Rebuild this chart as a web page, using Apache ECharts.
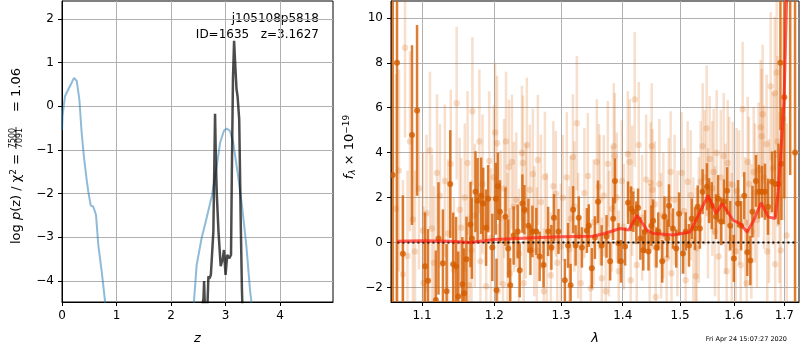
<!DOCTYPE html>
<html>
<head>
<meta charset="utf-8">
<script src="https://cdn.jsdelivr.net/npm/echarts@6/dist/echarts.min.js"></script>
<style>
  html, body { margin: 0; padding: 0; background: #fff; }
  #main { width: 800px; height: 350px; }
</style>
</head>
<body>
<div id="main"></div>
<script>
// ---- left panel: p(z) ----
const zTicks = [0, 1, 2, 3, 4]
const logpTicks = [-4, -3, -2, -1, 0, 1, 2]

// blue curve, low-z hump
const pzLowZ = [0.0, 0.01, 0.055, 0.116, 0.178, 0.22, 0.27, 0.318, 0.36, 0.40, 0.45, 0.483, 0.526, 0.575, 0.624, 0.666, 0.728, 0.789, 0.83]
const pzLowP = [-0.55, -0.22, 0.23, 0.39, 0.54, 0.65, 0.58, 0.16, -0.6, -1.13, -1.66, -1.96, -2.27, -2.30, -2.49, -3.18, -3.78, -4.46, -5.2]
// blue curve, high-z hump
const pzHighZ = [2.38, 2.42, 2.47, 2.56, 2.65, 2.75, 2.83, 2.90, 2.97, 3.02, 3.08, 3.14, 3.22, 3.30, 3.38, 3.45, 3.48, 3.52]
const pzHighP = [-5.2, -4.46, -3.63, -3.02, -2.57, -2.04, -1.43, -0.83, -0.56, -0.51, -0.56, -0.83, -1.51, -2.27, -3.18, -4.23, -4.54, -5.2]
// dark curve (chi2 based)
const chiZ = [2.57, 2.58, 2.595, 2.606, 2.62, 2.667, 2.685, 2.70, 2.73, 2.75, 2.776, 2.795, 2.807, 2.825, 2.84, 2.87, 2.91, 2.95, 2.97, 3.00, 3.03, 3.07, 3.10, 3.115, 3.135, 3.156, 3.175, 3.20, 3.22, 3.25, 3.28, 3.30, 3.33]
const chiP = [-5.0, -4.5, -4.4, -4.0, -4.6, -4.6, -3.89, -3.95, -3.86, -3.82, -2.87, -1.2, -0.17, -1.4, -2.04, -2.87, -3.66, -3.48, -3.29, -3.86, -3.40, -3.48, -3.40, -1.5, 0.6, 1.5, 1.0, 0.4, 0.23, -0.3, -2.8, -4.2, -5.5]

// ---- right panel: spectrum ----
const lamTicks = [1.1, 1.2, 1.3, 1.4, 1.5, 1.6, 1.7]
const fluxTicks = [-2, 0, 2, 4, 6, 8, 10]

// binned points (dark)
const darkLam = [1.062, 1.0675, 1.075, 1.0869, 1.0935, 1.104, 1.108, 1.1185, 1.122, 1.128, 1.133, 1.138, 1.142, 1.146, 1.149, 1.1546, 1.157, 1.1604, 1.166, 1.168,
  1.173, 1.176, 1.181, 1.184, 1.188, 1.191, 1.197, 1.202, 1.203, 1.205, 1.208, 1.216, 1.220, 1.223, 1.228, 1.234, 1.237, 1.241, 1.244, 1.250,
  1.253, 1.256, 1.262, 1.267, 1.273, 1.280, 1.285, 1.289, 1.296, 1.306, 1.311, 1.315, 1.319, 1.323, 1.328, 1.333, 1.341, 1.344, 1.349, 1.354,
  1.359, 1.365, 1.373, 1.379, 1.384, 1.387, 1.393, 1.397, 1.404, 1.409, 1.414, 1.418, 1.423, 1.426, 1.430, 1.435, 1.438, 1.444, 1.449, 1.452,
  1.458, 1.461, 1.468, 1.472, 1.477, 1.480, 1.487, 1.493, 1.498, 1.505, 1.510, 1.516, 1.521, 1.527, 1.532, 1.536, 1.541, 1.549, 1.553, 1.558,
  1.566, 1.570, 1.576, 1.581, 1.587, 1.593, 1.600, 1.608, 1.614, 1.620, 1.626, 1.632, 1.636, 1.643, 1.649, 1.655, 1.661, 1.667, 1.675, 1.681,
  1.688, 1.692, 1.694, 1.700, 1.712, 1.722]
const darkFlux = [3.0, 8.0, -0.5, 4.78, 5.88, -1.06, -1.7, -2.56, 0.18, -0.93, -2.17, 2.6, -0.97, -1.06, -2.4, -1.86, -2.26, -0.75, 0.8, 0.18,
  2.26, 1.86, 2.08, 1.73, 0.66, 1.95, -0.22, 1.95, -2.12, 2.5, 1.37, 1.15, -0.27, -1.9, 0.31, 0.49, -1.24, 1.73, 1.46, 0.75,
  -0.35, 0.49, 0.49, -0.62, -1.0, 0.49, -0.22, 1.1, 0.49, -1.68, -0.13, -1.9, 1.46, -0.13, 1.1, -0.22, 0.53, 0.75, -1.15, 0.22,
  1.81, -0.13, 0.27, -0.84, 1.06, 2.74, -0.04, -0.84, -0.18, 1.77, 1.5, 1.37, 0.88, 1.55, 0.18, -0.35, 0.49, -0.4, 0.75, 0.97,
  -0.22, 0.49, -0.84, 1.15, 0.18, 1.64, 0.62, -0.27, 1.28, -0.49, 0.49, -0.13, 1.06, 0.62, 1.59, 0.62, 2.26, 2.48, 1.86, 1.64,
  1.15, 1.95, 0.93, 1.81, 2.3, 0.75, -0.71, 1.73, 0.75, 2.08, -0.44, -0.8, 1.37, 2.74, 2.26, 2.26, 2.26, 1.59, 2.7, 2.6,
  2.6, 8.0, 3.5, 6.46, 14.0, 4.0]
const darkErr = [12, 11, 2.6, 4.0, 3.8, 2.4, 2.3, 2.2, 2.5, 2.4, 2.1, 2.4, 2.3, 2.2, 2.0, 2.1, 2.0, 1.9, 1.9, 1.8,
  1.8, 1.9, 1.7, 1.6, 1.7, 1.5, 1.5, 1.6, 1.4, 1.5, 1.4, 1.3, 1.3, 1.2, 1.3, 1.2, 1.2, 1.3, 1.1, 1.2,
  1.1, 1.15, 1.05, 1.1, 1.0, 1.1, 1.0, 1.05, 1.0, 0.95, 1.0, 0.95, 1.05, 0.9, 0.95, 0.9, 1.0, 0.95, 0.9, 0.95,
  0.95, 0.9, 0.95, 0.85, 0.95, 1.0, 0.9, 0.95, 0.85, 0.95, 1.0, 0.9, 0.95, 0.85, 0.95, 0.9, 0.95, 0.85, 0.9, 0.95,
  0.9, 0.85, 0.95, 0.9, 0.85, 0.95, 0.9, 0.85, 0.95, 0.9, 0.85, 0.95, 0.9, 0.95, 0.95, 0.9, 1.0, 1.05, 1.0, 1.05,
  1.0, 1.05, 1.05, 1.0, 1.05, 1.1, 1.05, 1.05, 1.1, 1.05, 1.05, 1.1, 1.15, 1.15, 1.2, 1.15, 1.25, 1.25, 1.35, 1.5,
  1.8, 3.0, 2.5, 4.5, 11, 12]

// unbinned points (light), set A
const lightLam = [1.066, 1.0752, 1.0778, 1.0842, 1.0881, 1.0908, 1.1013, 1.1020, 1.1106, 1.1133, 1.124, 1.1306, 1.1387, 1.1468, 1.1509, 1.1530, 1.1619, 1.1674, 1.1687, 1.1785,
  1.1800, 1.1882, 1.1925, 1.2010, 1.2038, 1.2050, 1.2124, 1.2168, 1.2211, 1.2225, 1.2255, 1.2285, 1.2403, 1.2418, 1.2430, 1.2477, 1.2522, 1.2567, 1.2628, 1.2643,
  1.2734, 1.2750, 1.2842, 1.2919, 1.2997, 1.3028, 1.3154, 1.3186, 1.3249, 1.3313, 1.3425, 1.3473, 1.3571, 1.3603, 1.3652, 1.3685, 1.3718, 1.3751, 1.3850, 1.3867,
  1.3933, 1.3984, 1.4085, 1.4118, 1.4135, 1.4203, 1.4238, 1.4272, 1.4478, 1.4496, 1.4510, 1.4566, 1.4759, 1.4795, 1.4830, 1.4845, 1.5028, 1.5100, 1.5136, 1.5282,
  1.5300, 1.5374, 1.5411, 1.5485, 1.5541, 1.5616, 1.5673, 1.5710, 1.5805, 1.5862, 1.5881, 1.5977, 1.6035, 1.6054, 1.6132, 1.6170, 1.6248, 1.6267, 1.6385, 1.6483,
  1.6523, 1.6543, 1.6563, 1.6642, 1.6655, 1.6723, 1.6804, 1.6815, 1.6844, 1.6925, 1.7048]
const lightFlux = [1.5, -1.42, 8.67, 4.5, 1.02, -0.4, 0.53, -1.8, 4.1, 0.62, 2.08, 2.74, 3.5, 6.2, 1.46, 0.66, 3.54, -0.35, 5.84, 4.5,
  -0.84, -1.95, 3.63, 4.9, 4.42, -2.17, -1.86, 4.5, 3.36, -1.37, 3.58, 1.59, 3.98, 3.54, -1.81, 4.34, 2.35, 3.05, -0.35, 3.67,
  -2.17, 2.92, -1.46, 2.17, -0.18, 1.99, 1.06, 3.8, 5.31, -1.81, 2.96, -2.04, 3.58, 2.48, -1.59, 2.08, -2.17, 3.5, 4.29, 3.85,
  -1.28, 2.74, 3.94, 3.58, -1.68, 6.37, -1.0, 4.34, 2.65, 4.29, 2.35, -2.43, -0.71, 1.95, 3.14, -1.37, 3.1, -1.68, 2.7, -1.5,
  -0.27, 2.7, 4.29, 5.08, 3.72, 3.14, 3.98, -0.62, 3.85, -1.28, 3.54, 2.57, -0.4, 2.3, -1.0, 5.93, -1.81, 3.58, 3.14, 3.23,
  5.13, 4.73, 5.71, 4.38, -0.4, 6.95, 6.64, -0.97, 7.57, -0.35, 0.31]
const lightErr = [6.0, 4.2, 4.0, 4.0, 3.8, 3.6, 3.5, 3.4, 3.5, 3.3, 3.2, 3.4, 3.3, 3.4, 3.2, 3.1, 3.2, 3.1, 3.3, 3.2,
  3.0, 3.0, 3.1, 3.1, 3.0, 3.0, 2.9, 3.1, 3.0, 2.9, 3.0, 2.9, 3.0, 3.0, 2.9, 3.0, 2.9, 2.9, 2.8, 2.9,
  2.8, 2.9, 2.8, 2.8, 2.8, 2.8, 2.8, 2.8, 3.0, 2.8, 2.8, 2.8, 2.8, 2.8, 2.7, 2.7, 2.7, 2.8, 2.8, 2.8,
  2.7, 2.7, 2.8, 2.8, 2.7, 3.0, 2.7, 2.8, 2.7, 2.8, 2.7, 2.7, 2.7, 2.7, 2.7, 2.7, 2.7, 2.7, 2.7, 2.7,
  2.7, 2.7, 2.8, 2.8, 2.8, 2.8, 2.8, 2.8, 2.8, 2.8, 2.8, 2.8, 2.8, 2.8, 2.8, 3.0, 2.8, 2.9, 2.9, 3.0,
  3.0, 3.0, 3.1, 3.1, 3.1, 3.3, 3.4, 3.4, 3.8, 3.8, 5.0]

// unbinned points (light), set B
const lightLamB = [1.070, 1.081, 1.096, 1.106, 1.116, 1.120, 1.135, 1.143, 1.158, 1.164, 1.172, 1.183, 1.195, 1.199, 1.209, 1.214, 1.219, 1.232, 1.236, 1.246,
  1.259, 1.269, 1.278, 1.288, 1.294, 1.309, 1.313, 1.321, 1.327, 1.337, 1.352, 1.362, 1.377, 1.382, 1.390, 1.402, 1.416, 1.433, 1.440, 1.446,
  1.455, 1.463, 1.466, 1.470, 1.490, 1.495, 1.507, 1.519, 1.524, 1.534, 1.545, 1.551, 1.559, 1.564, 1.575, 1.584, 1.591, 1.596, 1.610, 1.622,
  1.629, 1.634, 1.641, 1.645, 1.659, 1.669, 1.677, 1.686, 1.690, 1.698]
const lightFluxB = [3.2, -0.6, 2.4, 1.3, -0.9, 3.1, 0.4, -1.2, 2.0, -1.9, 1.2, 2.6, 0.2, 2.9, 1.1, 2.4, 0.1, 1.9, -0.5, 1.4,
  0.5, 1.8, 0.2, 2.5, -0.9, 2.9, -0.3, 1.6, 0.3, 2.2, 0.9, 1.9, 0.4, 1.5, 2.0, 0.7, 2.3, 1.1, 2.8, -0.2,
  1.7, 2.6, 0.3, 1.2, 1.9, 0.4, 1.4, 2.1, 0.1, 1.0, 2.9, 1.3, 2.4, 0.5, 2.9, 1.5, 2.6, 0.2, 2.0, 0.9,
  2.6, 0.5, 2.2, 1.0, 2.9, 1.4, 3.3, 4.5, 2.0, 5.5]
const lightErrB = [4.5, 3.8, 3.6, 3.5, 3.4, 3.5, 3.3, 3.2, 3.3, 3.1, 3.2, 3.1, 3.1, 3.2, 3.0, 3.1, 3.0, 3.0, 2.9, 3.0,
  2.9, 3.0, 2.9, 2.9, 2.9, 2.9, 2.8, 2.9, 2.8, 2.9, 2.8, 2.9, 2.8, 2.8, 2.9, 2.8, 2.9, 2.8, 2.9, 2.8,
  2.8, 2.9, 2.8, 2.8, 2.9, 2.8, 2.8, 2.9, 2.8, 2.8, 3.0, 2.9, 3.0, 2.9, 3.0, 2.9, 3.0, 2.9, 3.0, 2.9,
  3.0, 3.0, 3.1, 3.0, 3.2, 3.2, 3.4, 3.8, 3.8, 4.5]

// best-fit model (red)
const modelLam = [1.068, 1.10, 1.14, 1.165, 1.20, 1.25, 1.30, 1.35, 1.37, 1.3956, 1.41, 1.4243, 1.4415, 1.452, 1.4873, 1.518, 1.5364, 1.5512, 1.5662, 1.5776,
  1.5985, 1.612, 1.6256, 1.6374, 1.6533, 1.6673, 1.6814, 1.6875, 1.6956, 1.6996, 1.706]
const modelFlux = [0.05, 0.08, 0.05, 0.0, 0.13, 0.2, 0.25, 0.28, 0.4, 0.62, 0.55, 1.21, 0.55, 0.4, 0.33, 0.47, 1.37, 2.1, 1.28, 1.73,
  0.99, 0.84, 0.47, 0.93, 1.77, 1.14, 1.06, 2.26, 4.9, 6.4, 12]

const zeroLam = [1.068, 1.725]

const darkColor = "rgba(213,94,0,0.8)"
const lightColor = "rgba(213,94,0,0.2)"
const font = "DejaVu Sans"

const zip2 = (a, b) => a.map((v, i) => [v, b[i]])
const specData = (lam, flux, err) => lam.map((w, i) => [Math.log(w), flux[i], err[i]])
const minus = v => String(v).replace("-", "\u2212")

const errBars = (color, width, r) => (params, api) => {
  const x = api.value(0), y = api.value(1), e = api.value(2)
  const lo = api.coord([x, y - e])
  const hi = api.coord([x, y + e])
  const c = api.coord([x, y])
  return {
    type: "group",
    children: [
      { type: "line", shape: { x1: lo[0], y1: lo[1], x2: hi[0], y2: hi[1] }, style: { stroke: color, lineWidth: width } },
      { type: "circle", shape: { cx: c[0], cy: c[1], r: r }, style: { fill: color } }
    ]
  }
}

const axisCommon = {
  axisLine: { onZero: false, lineStyle: { color: "#000", width: 1 } },
  axisTick: { length: 4, lineStyle: { color: "#000" } },
  splitLine: { show: true, lineStyle: { color: "#b0b0b0", width: 1 } },
  axisLabel: { color: "#000", fontFamily: font, fontSize: 12 }
}

let chart = echarts.init(document.getElementById("main"))

let option = {
  animation: false,
  backgroundColor: "#fff",
  grid: [
    { left: 62, top: 1, width: 271, height: 303, show: true, borderColor: "#000", borderWidth: 1 },
    { left: 391, top: 1, width: 408, height: 303, show: true, borderColor: "#000", borderWidth: 1 }
  ],
  xAxis: [
    {
      type: "value", gridIndex: 0, min: 0, max: 4.97,
      ...axisCommon,
      axisTick: { ...axisCommon.axisTick, customValues: zTicks },
      axisLabel: { ...axisCommon.axisLabel, customValues: zTicks },
      name: "z", nameLocation: "middle", nameGap: 30,
      nameTextStyle: { color: "#000", fontFamily: font, fontSize: 13, fontStyle: "italic" }
    },
    {
      type: "value", gridIndex: 1, min: Math.log(1.0598), max: Math.log(1.7302),
      ...axisCommon,
      axisTick: { ...axisCommon.axisTick, customValues: lamTicks.map(Math.log) },
      axisLabel: { ...axisCommon.axisLabel, customValues: lamTicks.map(Math.log), formatter: v => Math.exp(v).toFixed(1) },
      name: "λ", nameLocation: "middle", nameGap: 30,
      nameTextStyle: { color: "#000", fontFamily: font, fontSize: 13, fontStyle: "italic" }
    }
  ],
  yAxis: [
    {
      type: "value", gridIndex: 0, min: -4.48, max: 2.41,
      ...axisCommon,
      axisTick: { ...axisCommon.axisTick, customValues: logpTicks },
      axisLabel: { ...axisCommon.axisLabel, customValues: logpTicks, formatter: minus, margin: 8 }
    },
    {
      type: "value", gridIndex: 1, min: -2.65, max: 10.75,
      ...axisCommon,
      axisTick: { ...axisCommon.axisTick, customValues: fluxTicks },
      axisLabel: { ...axisCommon.axisLabel, customValues: fluxTicks, formatter: minus, margin: 8 }
    }
  ],
  series: [
    {
      type: "line", xAxisIndex: 0, yAxisIndex: 0, showSymbol: false, clip: true,
      data: zip2(pzLowZ, pzLowP), lineStyle: { color: "rgba(31,119,180,0.5)", width: 2 }
    },
    {
      type: "line", xAxisIndex: 0, yAxisIndex: 0, showSymbol: false, clip: true,
      data: zip2(pzHighZ, pzHighP), lineStyle: { color: "rgba(31,119,180,0.5)", width: 2 }
    },
    {
      type: "line", xAxisIndex: 0, yAxisIndex: 0, showSymbol: false, clip: true,
      data: zip2(chiZ, chiP), lineStyle: { color: "rgba(0,0,0,0.7)", width: 2.5 }
    },
    {
      type: "custom", xAxisIndex: 1, yAxisIndex: 1, clip: true,
      renderItem: errBars(lightColor, 2.5, 3.2),
      data: specData(lightLam, lightFlux, lightErr).concat(specData(lightLamB, lightFluxB, lightErrB))
    },
    {
      type: "custom", xAxisIndex: 1, yAxisIndex: 1, clip: true,
      renderItem: errBars(darkColor, 2.5, 3),
      data: specData(darkLam, darkFlux, darkErr)
    },
    {
      type: "line", xAxisIndex: 1, yAxisIndex: 1, showSymbol: false, clip: true,
      data: zeroLam.map(w => [Math.log(w), 0]),
      lineStyle: { color: "#000", width: 2, type: [2, 3] }
    },
    {
      type: "line", xAxisIndex: 1, yAxisIndex: 1, showSymbol: false, clip: true,
      data: modelLam.map((w, i) => [Math.log(w), modelFlux[i]]),
      lineStyle: { color: "rgba(255,30,20,0.7)", width: 3 }
    }
  ],
  graphic: [
    // left y label
    {
      type: "text", x: 17, y: 199, rotation: Math.PI / 2,
      style: {
        text: "{n|log }{i|p}{n|(z) / χ}{s|2}{n| =}",
        x: 0, y: 0, align: "center", verticalAlign: "middle",
        rich: {
          n: { fontFamily: font, fontSize: 13, fill: "#000" },
          i: { fontFamily: font, fontSize: 13, fontStyle: "italic", fill: "#000" },
          s: { fontFamily: font, fontSize: 9, fill: "#000", padding: [0, 0, 6, 0] }
        }
      }
    },
    {
      type: "text", x: 12.5, y: 138, rotation: Math.PI / 2,
      style: { text: "7500", x: 0, y: 0, align: "center", verticalAlign: "middle", fontFamily: font, fontSize: 8, fill: "#000" }
    },
    {
      type: "line", shape: { x1: 16, y1: 127, x2: 16, y2: 149 }, style: { stroke: "#000", lineWidth: 0.8 }
    },
    {
      type: "text", x: 20, y: 138, rotation: Math.PI / 2,
      style: { text: "7091", x: 0, y: 0, align: "center", verticalAlign: "middle", fontFamily: font, fontSize: 8, fill: "#000" }
    },
    {
      type: "text", x: 17, y: 90, rotation: Math.PI / 2,
      style: { text: "= 1.06", x: 0, y: 0, align: "center", verticalAlign: "middle", fontFamily: font, fontSize: 13, fill: "#000" }
    },
    // right y label
    {
      type: "text", x: 350, y: 147, rotation: Math.PI / 2,
      style: {
        text: "{i|f}{b|λ}{n| × 10}{s|−19}",
        x: 0, y: 0, align: "center", verticalAlign: "middle",
        rich: {
          n: { fontFamily: font, fontSize: 13, fill: "#000" },
          i: { fontFamily: font, fontSize: 13, fontStyle: "italic", fill: "#000" },
          b: { fontFamily: font, fontSize: 9, fontStyle: "italic", fill: "#000", padding: [6, 0, 0, 0] },
          s: { fontFamily: font, fontSize: 9, fill: "#000", padding: [0, 0, 7, 0] }
        }
      }
    },
    // object labels
    {
      type: "text", x: 319, y: 19,
      style: { text: "j105108p5818", align: "right", verticalAlign: "middle", fontFamily: font, fontSize: 12, fill: "#000" }
    },
    {
      type: "text", x: 319, y: 35,
      style: { text: "ID=1635   z=3.1627", align: "right", verticalAlign: "middle", fontFamily: font, fontSize: 12, fill: "#000" }
    },
    {
      type: "text", x: 787, y: 339,
      style: { text: "Fri Apr 24 15:07:27 2020", align: "right", verticalAlign: "middle", fontFamily: font, fontSize: 6.5, fill: "#000" }
    }
  ]
}

chart.setOption(option)
</script>
</body>
</html>
